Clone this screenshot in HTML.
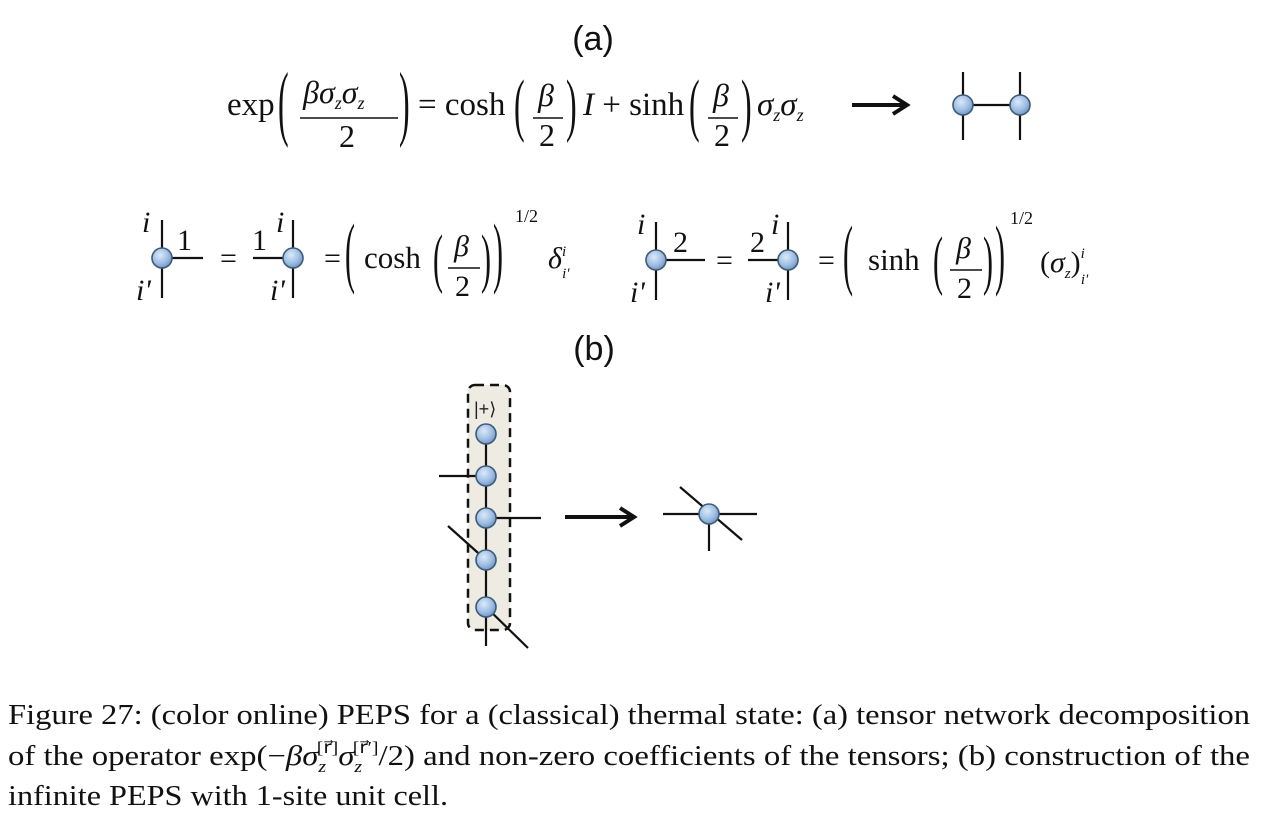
<!DOCTYPE html>
<html><head><meta charset="utf-8"><style>
html,body{margin:0;padding:0;background:#fff;}
svg{display:block;}
.s{font-family:"Liberation Serif",serif;fill:#111;}
.sa{font-family:"Liberation Sans",sans-serif;fill:#111;}
.i{font-style:italic;}
</style></head><body>
<svg width="1263" height="815" viewBox="0 0 1263 815">
<defs>
<radialGradient id="g" cx="0.4" cy="0.35" r="0.7">
<stop offset="0" stop-color="#dbe9f8"/><stop offset="0.6" stop-color="#9dbde3"/><stop offset="1" stop-color="#6d91bd"/>
</radialGradient>
</defs>
<g stroke="#111" stroke-width="2.2" fill="none">
<line x1="963" y1="72" x2="963" y2="140"/><line x1="1020" y1="72" x2="1020" y2="140"/><line x1="963" y1="105" x2="1020" y2="105"/>
<line x1="852" y1="105" x2="905" y2="105" stroke-width="4"/>
<polyline points="893,96 907,105 893,114" stroke-width="4"/>
<line x1="162" y1="220" x2="162" y2="298"/><line x1="162" y1="258" x2="203" y2="258"/>
<line x1="293" y1="220" x2="293" y2="298"/><line x1="253" y1="258" x2="293" y2="258"/>
<line x1="656" y1="222" x2="656" y2="300"/><line x1="656" y1="260" x2="705" y2="260"/>
<line x1="788" y1="222" x2="788" y2="300"/><line x1="748" y1="260" x2="788" y2="260"/>
<line x1="300" y1="118" x2="398" y2="118" stroke-width="1.6"/>
<line x1="533" y1="118" x2="563" y2="118" stroke-width="1.6"/>
<line x1="708" y1="118" x2="738" y2="118" stroke-width="1.6"/>
<line x1="448" y1="268" x2="480" y2="268" stroke-width="1.6"/>
<line x1="950" y1="270" x2="982" y2="270" stroke-width="1.6"/>
</g>
<g fill="url(#g)" stroke="#3d5a7a" stroke-width="1.6">
<circle cx="963" cy="105" r="10"/><circle cx="1020" cy="105" r="10"/>
<circle cx="162" cy="258" r="10"/><circle cx="293" cy="258" r="10"/>
<circle cx="656" cy="260" r="10"/><circle cx="788" cy="260" r="10"/>
</g>
<text class="sa" x="593" y="50" font-size="34" text-anchor="middle">(a)</text>
<g class="s">
<text x="227" y="115" font-size="33">exp</text>
<text x="278" y="130" font-size="32" transform="translate(278,130) scale(1,2.6) translate(-278,-130)">(</text>
<text x="303" y="103" font-size="32" class="i">βσ<tspan font-size="18" dy="6">z</tspan><tspan dy="-6">σ</tspan><tspan font-size="18" dy="6">z</tspan></text>
<text x="339" y="147" font-size="32">2</text>
<text x="399" y="130" font-size="32" transform="translate(399,130) scale(1,2.6) translate(-399,-130)">)</text>
<text x="418" y="115" font-size="33">= cosh</text>
<text x="514" y="128" font-size="32" transform="translate(514,128) scale(1,2.2) translate(-514,-128)">(</text>
<text x="538" y="106" font-size="32" class="i">β</text><text x="539" y="146" font-size="32">2</text>
<text x="566" y="128" font-size="32" transform="translate(566,128) scale(1,2.2) translate(-566,-128)">)</text>
<text x="583" y="115" font-size="33"><tspan class="i">I</tspan> + sinh</text>
<text x="689" y="128" font-size="32" transform="translate(689,128) scale(1,2.2) translate(-689,-128)">(</text>
<text x="713" y="106" font-size="32" class="i">β</text><text x="714" y="146" font-size="32">2</text>
<text x="741" y="128" font-size="32" transform="translate(741,128) scale(1,2.2) translate(-741,-128)">)</text>
<text x="757" y="115" font-size="33" class="i">σ<tspan font-size="18" dy="6">z</tspan><tspan dy="-6">σ</tspan><tspan font-size="18" dy="6">z</tspan></text>
</g>
<g class="s" font-size="30">
<text x="142" y="232" class="i">i</text><text x="136" y="300" class="i">i'</text><text x="177" y="250">1</text>
<text x="220" y="268">=</text>
<text x="252" y="250">1</text><text x="276" y="232" class="i">i</text><text x="270" y="300" class="i">i'</text>
<text x="324" y="268">=</text>
<text x="345" y="278" transform="translate(345,278) scale(1,2.6) translate(-345,-278)">(</text>
<text x="364" y="268" font-size="31">cosh</text>
<text x="433" y="280" transform="translate(433,280) scale(1,2.2) translate(-433,-280)">(</text>
<text x="454" y="256" class="i">β</text><text x="455" y="296">2</text>
<text x="481" y="280" transform="translate(481,280) scale(1,2.2) translate(-481,-280)">)</text>
<text x="493" y="278" transform="translate(493,278) scale(1,2.6) translate(-493,-278)">)</text>
<text x="515" y="222" font-size="18">1/2</text>
<text x="548" y="268" class="i">δ<tspan font-size="15" dy="-12">i</tspan><tspan font-size="15" dx="-4" dy="22">i'</tspan></text>
<text x="637" y="234" class="i">i</text><text x="630" y="302" class="i">i'</text><text x="673" y="252">2</text>
<text x="716" y="270">=</text>
<text x="750" y="252">2</text><text x="771" y="234" class="i">i</text><text x="765" y="302" class="i">i'</text>
<text x="818" y="270">=</text>
<text x="843" y="280" transform="translate(843,280) scale(1,2.6) translate(-843,-280)">(</text>
<text x="868" y="270" font-size="31">sinh</text>
<text x="933" y="282" transform="translate(933,282) scale(1,2.2) translate(-933,-282)">(</text>
<text x="956" y="258" class="i">β</text><text x="957" y="298">2</text>
<text x="983" y="282" transform="translate(983,282) scale(1,2.2) translate(-983,-282)">)</text>
<text x="995" y="280" transform="translate(995,280) scale(1,2.6) translate(-995,-280)">)</text>
<text x="1010" y="224" font-size="18">1/2</text>
<text x="1040" y="272">(<tspan class="i">σ</tspan><tspan font-size="15" dy="6" class="i">z</tspan><tspan dy="-6">)</tspan><tspan font-size="15" dy="-14" class="i">i</tspan><tspan font-size="15" dx="-4" dy="26" class="i">i'</tspan></text>
</g>
<text class="sa" x="594" y="360" font-size="34" text-anchor="middle">(b)</text>
<g>
<rect x="468" y="385" width="42" height="245" rx="7" fill="#eeece2" stroke="#111" stroke-width="2.5" stroke-dasharray="9,6"/>
<text x="474" y="415" font-family="Liberation Sans,sans-serif" font-size="18" fill="#222">|+⟩</text>
<g stroke="#111" stroke-width="2.2">
<line x1="486" y1="434" x2="486" y2="607"/>
<line x1="439" y1="476" x2="486" y2="476"/>
<line x1="486" y1="518" x2="541" y2="518"/>
<line x1="448" y1="526" x2="486" y2="560"/>
<line x1="486" y1="607" x2="528" y2="648"/>
<line x1="486" y1="607" x2="486" y2="646"/>
</g>
<g fill="url(#g)" stroke="#3d5a7a" stroke-width="1.6">
<circle cx="486" cy="434" r="10"/><circle cx="486" cy="476" r="10"/><circle cx="486" cy="518" r="10"/><circle cx="486" cy="560" r="10"/><circle cx="486" cy="607" r="10"/>
</g>
</g>
<g stroke="#111" stroke-width="4" fill="none">
<line x1="565" y1="517" x2="632" y2="517"/><polyline points="620,508 634,517 620,526"/>
</g>
<g>
<g stroke="#111" stroke-width="2.2">
<line x1="663" y1="514" x2="757" y2="514"/><line x1="680" y1="487" x2="742" y2="540"/><line x1="709" y1="514" x2="709" y2="551"/>
</g>
<circle cx="709" cy="514" r="10" fill="url(#g)" stroke="#3d5a7a" stroke-width="1.6"/>
</g>
<g class="s" font-size="28">
<text x="8" y="724" textLength="1242" lengthAdjust="spacingAndGlyphs">Figure 27: (color online) PEPS for a (classical) thermal state: (a) tensor network decomposition</text>
<text x="8" y="765" textLength="1242" lengthAdjust="spacingAndGlyphs">of the operator exp(−<tspan class="i">βσ</tspan><tspan font-size="17" class="i" dy="7">z</tspan><tspan font-size="17" dx="-8" dy="-19">[r⃗]</tspan><tspan class="i" dy="12">σ</tspan><tspan font-size="17" class="i" dy="7">z</tspan><tspan font-size="17" dx="-8" dy="-19">[r⃗′]</tspan><tspan dy="12">/2) and non-zero coefficients of the tensors; (b) construction of the</tspan></text>
<text x="8" y="805" textLength="440" lengthAdjust="spacingAndGlyphs">infinite PEPS with 1-site unit cell.</text>
</g>
</svg>
</body></html>
